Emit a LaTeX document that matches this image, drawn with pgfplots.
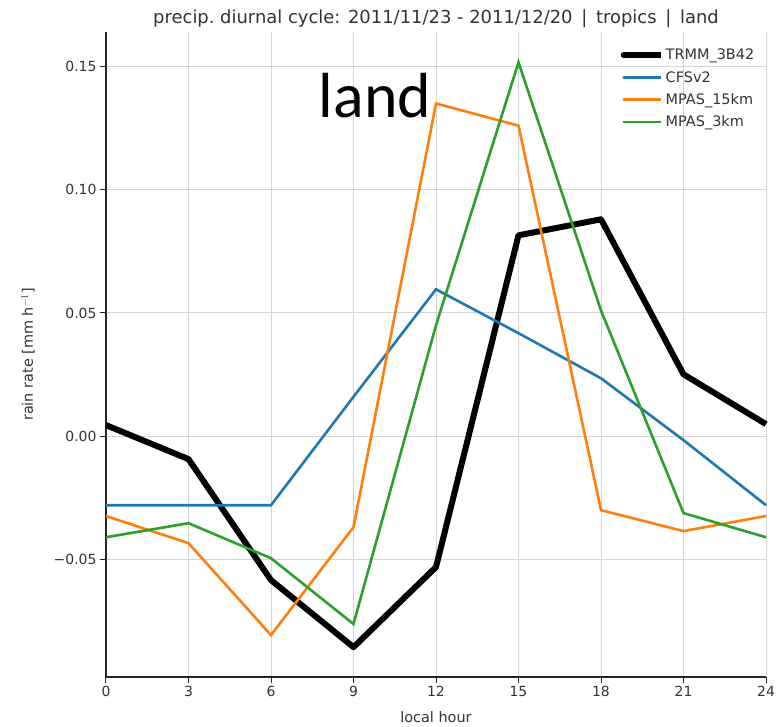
\documentclass[border=0pt]{standalone}
\usepackage{pgfplots}
\pgfplotsset{compat=1.18}
\usepackage{fontspec}
\setmainfont{DejaVu Sans}
\newfontfamily\bigfont{Carlito}
\definecolor{tabblue}{HTML}{1F77B4}
\definecolor{taborange}{HTML}{FF7F0E}
\definecolor{tabgreen}{HTML}{2CA02C}
\definecolor{gridgray}{HTML}{D4D4D4}
\definecolor{txtgray}{HTML}{333333}

\pgfplotstableread{
hour trmm cfs mpas15 mpas3
0   0.0045 -0.0280 -0.0324 -0.0410
3  -0.0093 -0.0280 -0.0434 -0.0353
6  -0.0584 -0.0280 -0.0807 -0.0495
9  -0.0856  0.0160 -0.0369 -0.0762
12 -0.0531  0.0596  0.1350  0.0450
15  0.0815  0.0418  0.1260  0.1517
18  0.0880  0.0235 -0.0300  0.0510
21  0.0251 -0.0016 -0.0385 -0.0312
24  0.0049 -0.0280 -0.0324 -0.0410
}\diurnal

\begin{document}
\begin{tikzpicture}
\begin{axis}[
  name=ax,
  scale only axis,
  width=660bp, height=645bp,
  xmin=0, xmax=24, ymin=-0.0977, ymax=0.164,
  xtick={0,3,...,24},
  ytick={-0.05,0,0.05,0.1,0.15},
  yticklabels={−0.05,0.00,0.05,0.10,0.15},
  /pgf/number format/assume math mode=true,
  ticklabel style={font=\fontsize{14}{16}\selectfont, text=txtgray},
  axis x line*=bottom, axis y line*=left,
  axis line style={black!85, line width=1.2bp},
  tick style={black!85, line width=1bp},
  tick align=outside, major tick length=6bp,
  grid=major,
  major grid style={gridgray, line width=1bp},
  xlabel={local hour},
  ylabel={rain rate [mm h$^{-1}$]},
  label style={font=\fontsize{14.5}{16}\selectfont, text=txtgray},
  xlabel style={yshift=-8bp},
  ylabel style={yshift=12bp},
  title={precip.\ diurnal cycle: 2011/11/23 - 2011/12/20 \,|\, tropics \,|\, land},
  title style={font=\fontsize{18}{20}\selectfont, text=txtgray, yshift=-5bp},
  legend style={draw=none, fill=none, at={(0.99,0.98)}, anchor=north east,
    font=\fontsize{14.5}{16}\selectfont, text=txtgray, row sep=6bp},
  legend cell align=left,
  legend image code/.code={\draw[#1, line cap=round] (0bp,0bp) -- (33bp,0bp);
    \path (0bp,0bp) -- (37bp,0bp);},
  clip=false,
]
\addplot[black, line width=6bp, line join=round] table[x=hour, y=trmm] {\diurnal};
\addlegendentry{TRMM\_3B42}
\addplot[tabblue, line width=2.6bp] table[x=hour, y=cfs] {\diurnal};
\addlegendentry{CFSv2}
\addplot[taborange, line width=2.6bp] table[x=hour, y=mpas15] {\diurnal};
\addlegendentry{MPAS\_15km}
\addplot[tabgreen, line width=2.6bp] table[x=hour, y=mpas3] {\diurnal};
\addlegendentry{MPAS\_3km}
\node[font=\bigfont\fontsize{64}{70}\selectfont, text=black] at (axis cs:9.78,0.138) {land};
\end{axis}
\pgfresetboundingbox
\path ([xshift=-106bp,yshift=-50bp]ax.south west) rectangle ([xshift=18bp,yshift=32bp]ax.north east);
\end{tikzpicture}
\end{document}
